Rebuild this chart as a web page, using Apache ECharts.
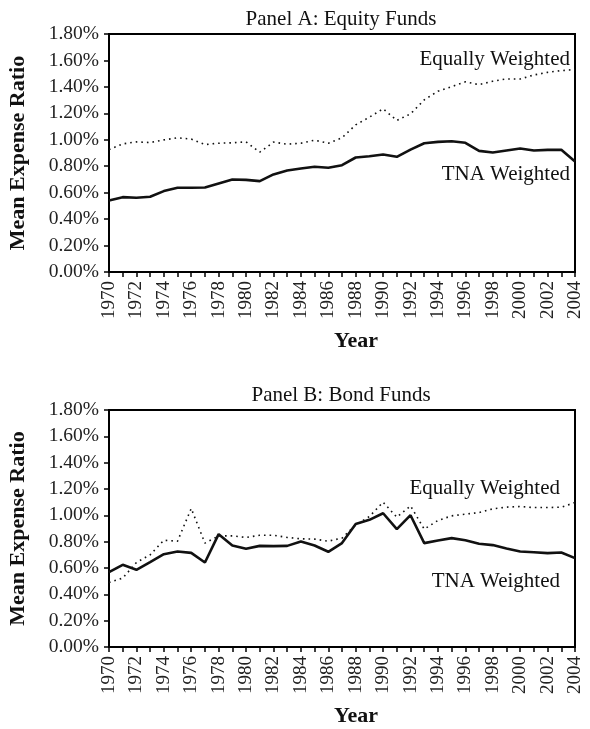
<!DOCTYPE html>
<html>
<head>
<meta charset="utf-8">
<script src="https://cdn.jsdelivr.net/npm/echarts@6/dist/echarts.min.js"></script>
<style>html,body{margin:0;padding:0;background:#fff;}#c{width:590px;height:729px;}</style>
</head>
<body>
<div id="c"></div>
<script>
const years = [];
for (let y = 1970; y <= 2004; y++) years.push(String(y));

const equityTNA = [0.54,0.566,0.561,0.569,0.612,0.637,0.637,0.639,0.670,0.700,0.697,0.687,0.738,0.768,0.783,0.796,0.788,0.808,0.866,0.876,0.889,0.871,0.926,0.974,0.984,0.989,0.977,0.916,0.904,0.919,0.934,0.919,0.924,0.924,0.836];
const equityEW = [0.926,0.969,0.984,0.979,0.999,1.015,1.005,0.964,0.974,0.977,0.984,0.906,0.982,0.967,0.974,0.997,0.974,1.015,1.113,1.171,1.234,1.146,1.196,1.302,1.367,1.402,1.438,1.417,1.443,1.460,1.460,1.490,1.510,1.523,1.531];
const bondTNA = [0.569,0.624,0.586,0.645,0.705,0.725,0.715,0.642,0.857,0.771,0.746,0.768,0.766,0.768,0.801,0.771,0.723,0.789,0.935,0.966,1.016,0.895,1.001,0.789,0.809,0.827,0.811,0.784,0.774,0.748,0.725,0.720,0.713,0.718,0.675];
const bondEW = [0.490,0.523,0.642,0.700,0.811,0.804,1.052,0.789,0.844,0.844,0.832,0.849,0.849,0.832,0.822,0.819,0.804,0.827,0.928,0.991,1.100,0.986,1.072,0.895,0.961,0.996,1.009,1.021,1.049,1.062,1.067,1.059,1.059,1.062,1.097];

const titles = ['Panel A: Equity Funds', 'Panel B: Bond Funds'];
const lineNames = ['Equally Weighted', 'TNA Weighted'];

const FONT = '"Liberation Serif", "DejaVu Serif", serif';
const chart = echarts.init(document.getElementById('c'), null, {renderer: 'canvas'});

const grids = [
  {left: 109, top: 34, width: 466, height: 238},
  {left: 109, top: 410, width: 466, height: 237}
];

function xAxis(i) {
  return {
    type: 'category', gridIndex: i, data: years, boundaryGap: false,
    name: 'Year', nameLocation: 'middle', nameGap: 58,
    nameTextStyle: {fontFamily: FONT, fontWeight: 'bold', fontSize: 22, color: '#111', padding: [0, 0, 0, 28]},
    axisLine: {lineStyle: {color: '#000', width: 2}},
    axisTick: {show: true, interval: 0, length: 5, inside: false, lineStyle: {color: '#000', width: 1.5}},
    axisLabel: {interval: 1, rotate: 90, fontFamily: FONT, fontSize: 19, color: '#222', margin: 9},
    splitLine: {show: false}
  };
}
function yAxis(i) {
  return {
    type: 'value', gridIndex: i, min: 0, max: 1.8, interval: 0.2,
    name: 'Mean Expense Ratio', nameLocation: 'middle', nameGap: 80,
    nameTextStyle: {fontFamily: FONT, fontWeight: 'bold', fontSize: 22, color: '#111'},
    axisLine: {show: true, lineStyle: {color: '#000', width: 2}},
    axisTick: {show: true, length: 5, lineStyle: {color: '#000', width: 1.5}},
    axisLabel: {fontFamily: FONT, fontSize: 19.5, color: '#222', margin: 10,
      formatter: v => v.toFixed(2) + '%'},
    splitLine: {show: false}
  };
}

const solid = {color: '#111', width: 2.6, type: 'solid'};
const dotted = {color: '#111', width: 1.6, type: [1.6, 4]};

const titleStyle = {fontFamily: FONT, fontWeight: 'normal', fontSize: 21, color: '#111'};
const lblFont = '21px ' + FONT;

chart.setOption({
  animation: false,
  backgroundColor: '#fff',
  title: [
    {text: titles[0], left: 336, top: 4, textAlign: 'center', textStyle: titleStyle},
    {text: titles[1], left: 336, top: 380, textAlign: 'center', textStyle: titleStyle}
  ],
  grid: grids.map(g => Object.assign({show: true, borderColor: '#000', borderWidth: 2, backgroundColor: 'transparent', containLabel: false, outerBoundsMode: 'none'}, g)),
  xAxis: [xAxis(0), xAxis(1)],
  yAxis: [yAxis(0), yAxis(1)],
  series: [
    {type: 'line', name: lineNames[0], xAxisIndex: 0, yAxisIndex: 0, data: equityEW, symbol: 'none', lineStyle: dotted},
    {type: 'line', name: lineNames[1], xAxisIndex: 0, yAxisIndex: 0, data: equityTNA, symbol: 'none', lineStyle: solid},
    {type: 'line', name: lineNames[0], xAxisIndex: 1, yAxisIndex: 1, data: bondEW, symbol: 'none', lineStyle: dotted},
    {type: 'line', name: lineNames[1], xAxisIndex: 1, yAxisIndex: 1, data: bondTNA, symbol: 'none', lineStyle: solid}
  ],
  graphic: [
    {type: 'text', x: 570, y: 59, style: {text: lineNames[0], font: lblFont, fill: '#111', align: 'right', verticalAlign: 'middle'}},
    {type: 'text', x: 570, y: 174, style: {text: lineNames[1], font: lblFont, fill: '#111', align: 'right', verticalAlign: 'middle'}},
    {type: 'text', x: 560, y: 488, style: {text: lineNames[0], font: lblFont, fill: '#111', align: 'right', verticalAlign: 'middle'}},
    {type: 'text', x: 560, y: 581, style: {text: lineNames[1], font: lblFont, fill: '#111', align: 'right', verticalAlign: 'middle'}}
  ]
});
</script>
</body>
</html>
